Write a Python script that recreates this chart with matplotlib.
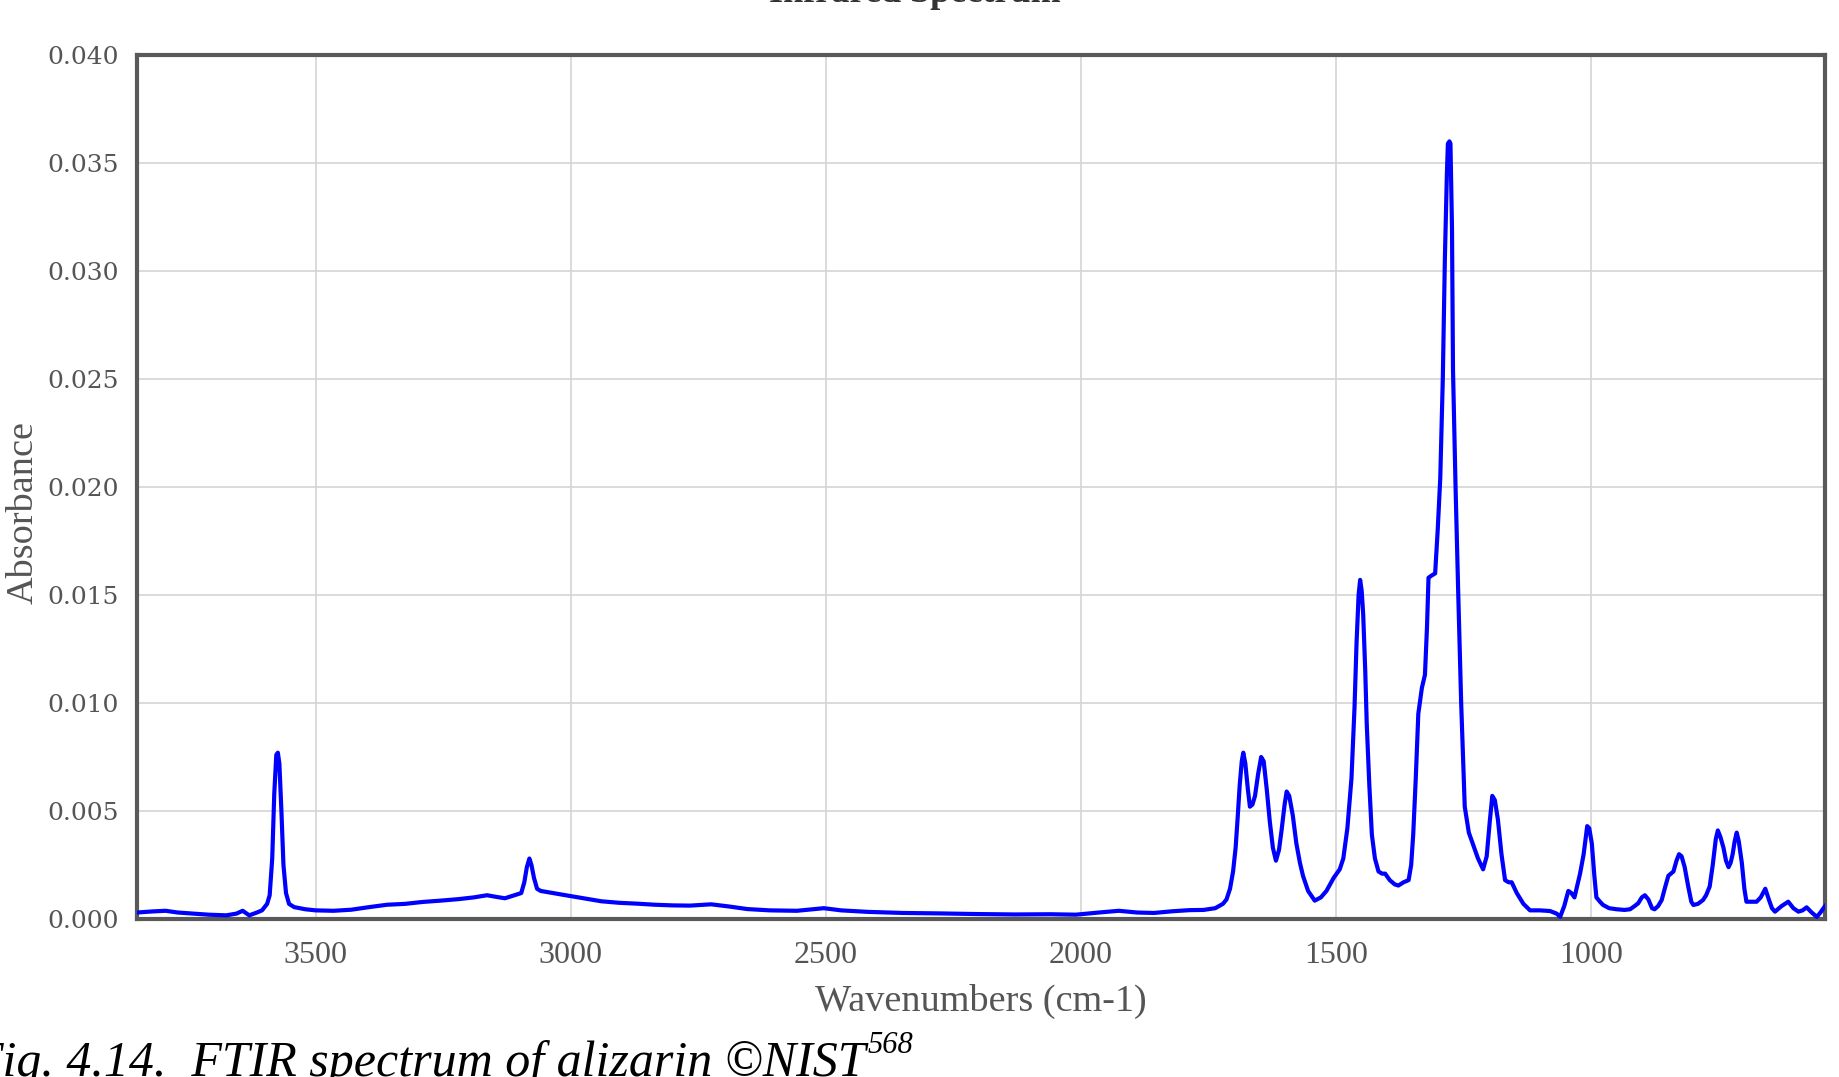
import matplotlib
matplotlib.use('Agg')
import matplotlib.pyplot as plt
import numpy as np

# FTIR absorbance spectrum
wavenumber = [3850, 3820, 3794, 3770, 3745, 3710, 3675, 3655, 3643, 3630, 3615, 3605,
              3595, 3590, 3585, 3581, 3577, 3574, 3571, 3567, 3563, 3558, 3552, 3542,
              3520, 3500, 3465, 3430, 3395, 3360, 3325, 3290, 3255, 3220, 3190, 3164,
              3145, 3129, 3110, 3097, 3091, 3086, 3081, 3077, 3072, 3066, 3059, 3035,
              3010, 2975, 2940, 2905, 2870, 2835, 2800, 2766, 2725, 2690, 2654, 2610,
              2557, 2525, 2504, 2470, 2418, 2350, 2280, 2206, 2130, 2060, 2010, 1965,
              1926, 1890, 1857, 1820, 1787, 1760, 1737, 1722, 1715, 1708, 1702, 1697,
              1693, 1689, 1685, 1682, 1678, 1673, 1669, 1664, 1659, 1653, 1647, 1642,
              1636, 1630, 1624, 1618, 1612, 1607, 1601, 1597, 1592, 1585, 1578, 1571,
              1565, 1555, 1542, 1530, 1519, 1505, 1493, 1486, 1478, 1470, 1464, 1460,
              1456, 1453, 1450, 1447, 1443, 1440, 1435, 1430, 1424, 1417, 1410, 1404,
              1395, 1385, 1378, 1368, 1358, 1353, 1349, 1344, 1339, 1332, 1326, 1322,
              1319, 1313, 1306, 1301, 1296, 1291, 1287, 1283, 1281, 1278, 1276, 1273,
              1271, 1266, 1261, 1255, 1248, 1240, 1231, 1222, 1212, 1205, 1199, 1194,
              1189, 1183, 1176, 1169, 1162, 1156, 1146, 1133, 1120, 1101, 1081, 1068,
              1061, 1053, 1045, 1039, 1033, 1028, 1022, 1015, 1008, 1004, 999, 994,
              990, 983, 977, 965, 950, 935, 924, 915, 908, 901, 895, 888,
              881, 876, 869, 862, 855, 849, 844, 839, 833, 828, 823, 817,
              810, 804, 800, 791, 781, 775, 768, 762, 756, 752, 747, 741,
              736, 731, 727, 723, 719, 715, 711, 705, 700, 696, 686, 676,
              668, 659, 652, 646, 640, 627, 614, 604, 594, 586, 578, 568,
              558, 551, 545, 542]
absorbance = [0.0003, 0.00035, 0.00038, 0.0003, 0.00026, 0.0002, 0.00017, 0.00025, 0.00038, 0.00017, 0.0003, 0.0004,
              0.0007, 0.0011, 0.0028, 0.0058, 0.0076, 0.0077, 0.0072, 0.0050, 0.0025, 0.0012, 0.0007, 0.00055,
              0.00045, 0.0004, 0.00038, 0.00043, 0.00055, 0.00066, 0.0007, 0.00079, 0.00085, 0.00092, 0.001, 0.0011,
              0.00102, 0.00096, 0.0011, 0.0012, 0.0017, 0.0024, 0.0028, 0.0025, 0.0019, 0.0014, 0.0013, 0.0012,
              0.0011, 0.00096, 0.00082, 0.00075, 0.00071, 0.00066, 0.00063, 0.00062, 0.00068, 0.00058, 0.00046, 0.0004,
              0.00038, 0.00045, 0.0005, 0.0004, 0.00033, 0.00028, 0.00026, 0.00023, 0.00021, 0.00022, 0.0002, 0.0003,
              0.00038, 0.0003, 0.00028, 0.00036, 0.00041, 0.00042, 0.0005, 0.0007, 0.0009, 0.0014, 0.0022, 0.0033,
              0.0047, 0.0062, 0.0073, 0.0077, 0.0072, 0.0060, 0.0052, 0.0053, 0.0057, 0.0067, 0.0075, 0.0073,
              0.0060, 0.0045, 0.0033, 0.0027, 0.0032, 0.0041, 0.0053, 0.0059, 0.0057, 0.0048, 0.0035, 0.0026,
              0.0020, 0.0013, 0.00085, 0.0010, 0.0013, 0.0019, 0.0023, 0.0028, 0.0042, 0.0065, 0.0098, 0.0128,
              0.0150, 0.0157, 0.0152, 0.0141, 0.0115, 0.0090, 0.0062, 0.0039, 0.0028, 0.0022, 0.0021, 0.0021,
              0.0018, 0.0016, 0.00155, 0.0017, 0.0018, 0.0025, 0.0039, 0.0065, 0.0095, 0.0107, 0.0113, 0.0135,
              0.0158, 0.0159, 0.0160, 0.0180, 0.0204, 0.0250, 0.0305, 0.0345, 0.0359, 0.0360, 0.0359, 0.0320,
              0.0254, 0.0200, 0.0153, 0.0100, 0.0052, 0.0040, 0.0034, 0.0028, 0.0023, 0.0029, 0.0045, 0.0057,
              0.0055, 0.0046, 0.0030, 0.0018, 0.0017, 0.0017, 0.0012, 0.0007, 0.0004, 0.0004, 0.00037, 0.00025,
              0.0001, 0.0006, 0.0013, 0.0012, 0.001, 0.0015, 0.0021, 0.0030, 0.0043, 0.0042, 0.0035, 0.0020,
              0.0010, 0.0008, 0.00065, 0.0005, 0.00045, 0.00042, 0.00045, 0.0006, 0.00073, 0.001, 0.0011, 0.0009,
              0.0005, 0.00045, 0.0006, 0.00088, 0.0015, 0.002, 0.0021, 0.0022, 0.0027, 0.003, 0.0029, 0.0024,
              0.0015, 0.0008, 0.00065, 0.0007, 0.00088, 0.0011, 0.0015, 0.0025, 0.0037, 0.0041, 0.0038, 0.0033,
              0.0027, 0.0024, 0.0026, 0.003, 0.0036, 0.0040, 0.0036, 0.0026, 0.0014, 0.0008, 0.0008, 0.0008,
              0.001, 0.0014, 0.0009, 0.0005, 0.00034, 0.0006, 0.0008, 0.0005, 0.00034, 0.0004, 0.00054, 0.0003,
              0.0001, 0.0003, 0.0005, 0.0006]

x_ticks = [3500, 3000, 2500, 2000, 1500, 1000]
y_ticks = [0.000, 0.005, 0.010, 0.015, 0.020, 0.025, 0.030, 0.035, 0.040]

plt.rcParams['font.family'] = ['Liberation Serif', 'DejaVu Serif']

fig = plt.figure(figsize=(18.4, 10.77), dpi=100)
ax = fig.add_axes([137/1840, 158/1077, 1688/1840, 864/1077])

ax.plot(wavenumber, absorbance, color='#0000ff', linewidth=3.0, zorder=3,
        solid_joinstyle='round')

ax.set_xlim(3850, 542)
ax.set_ylim(0, 0.040)
ax.set_xticks(x_ticks)
ax.set_yticks(y_ticks)
ax.set_yticklabels(['%.3f' % v for v in y_ticks], fontfamily='DejaVu Serif', fontsize=18, color='#555555')
ax.set_xticklabels([str(v) for v in x_ticks], fontsize=23, color='#555555')
ax.tick_params(axis='both', length=0)
ax.tick_params(axis='x', pad=16)
ax.tick_params(axis='y', pad=13)
ax.grid(True, color='#d4d4d4', linewidth=1.2, zorder=0)

for s in ax.spines.values():
    s.set_color('#595959')
    s.set_linewidth(3.0)

ax.set_xlabel('Wavenumbers (cm-1)', fontsize=27.5, color='#555555')
ax.xaxis.set_label_coords(0.5, -(1001 - 919) / 864, transform=ax.transAxes)
ax.xaxis.label.set_verticalalignment('center')
ax.set_ylabel('Absorbance', fontsize=27.5, color='#555555')
ax.yaxis.set_label_coords(-(137 - 23) / 1688, (919 - 512) / 864)
ax.yaxis.label.set_verticalalignment('center')

# title, mostly cut off by the top edge
fig.text(915/1840, 1 - 2/1077, 'Infrared Spectrum', ha='center', va='baseline',
         fontsize=26, fontweight='bold', color='#333333')

# caption below the chart, cut at the left and bottom
fig.text(-28/1840, 1/1077, 'Fig. 4.14.  FTIR spectrum of alizarin \u00a9NIST',
         ha='left', va='baseline', fontsize=36, style='italic', color='black')
fig.text(868/1840, 24/1077, '568', ha='left', va='baseline', fontsize=22,
         style='italic', color='black')

fig.savefig('out.png', dpi=100)
